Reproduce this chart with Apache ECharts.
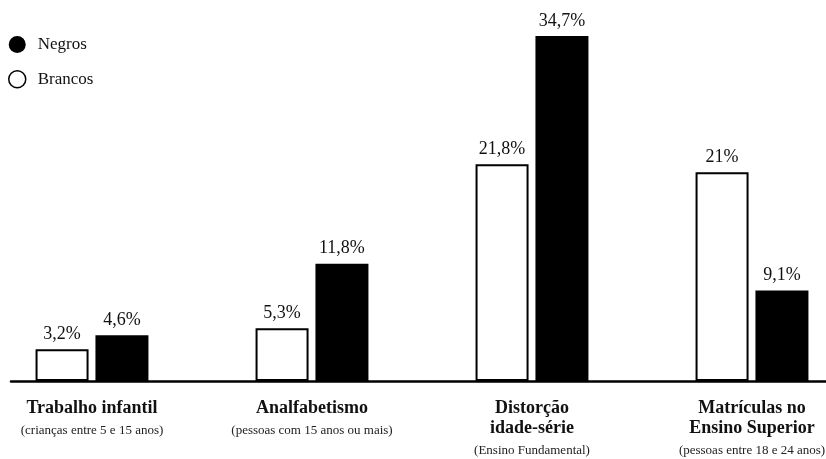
<!DOCTYPE html>
<html>
<head>
<meta charset="utf-8">
<script src="https://cdn.jsdelivr.net/npm/echarts@6/dist/echarts.min.js"></script>
<style>
  html, body { margin: 0; padding: 0; background: #fff; }
  #chart { width: 826px; height: 459px; }
</style>
</head>
<body>
<div id="chart"></div>
<script>
// Indicadores sociais por cor/raça (%)
const categories = ['Trabalho infantil', 'Analfabetismo', 'Distorção\nidade-série', 'Matrículas no\nEnsino Superior'];
const subtitles = ['(crianças entre 5 e 15 anos)', '(pessoas com 15 anos ou mais)', '(Ensino Fundamental)', '(pessoas entre 18 e 24 anos)'];
const brancos = [3.2, 5.3, 21.8, 21];
const negros = [4.6, 11.8, 34.7, 9.1];

const FONT = '"Liberation Serif", "DejaVu Serif", serif';

const pct = v => String(v).replace('.', ',') + '%';

const chart = echarts.init(document.getElementById('chart'), null, { renderer: 'canvas' });

chart.setOption({
  backgroundColor: '#ffffff',
  animation: false,
  textStyle: { fontFamily: FONT, color: '#111' },
  legend: {
    orient: 'vertical',
    left: 8,
    top: 36,
    padding: 0,
    itemWidth: 17,
    itemHeight: 17,
    itemGap: 17,
    icon: 'circle',
    textStyle: { fontFamily: FONT, fontSize: 17, color: '#111', padding: [0, 0, 0, 7] },
    data: [
      { name: 'Negros', itemStyle: { color: '#000', borderWidth: 0 } },
      { name: 'Brancos', itemStyle: { color: '#fff', borderColor: '#000', borderWidth: 1.5 } }
    ]
  },
  grid: [
    { left: -18, right: -36, top: 33, bottom: 78, outerBoundsMode: 'none' },
    { left: 11, right: 0, top: 33, bottom: 78, outerBoundsMode: 'none' }
  ],
  xAxis: [
    {
      type: 'category',
      gridIndex: 0,
      data: categories,
      axisLine: { show: false },
      axisTick: { show: false },
      splitLine: { show: false },
      axisLabel: {
        margin: 17,
        interval: 0,
        formatter: (val, idx) => {
          const title = val.split('\n').map(t => '{b|' + t + '}').join('\n');
          return title + '\n{s|' + subtitles[idx] + '}';
        },
        rich: {
          b: { fontFamily: FONT, fontSize: 18, fontWeight: 'bold', color: '#111', lineHeight: 20, align: 'center' },
          s: { fontFamily: FONT, fontSize: 13, color: '#222', lineHeight: 26, align: 'center' }
        }
      }
    },
    {
      type: 'category',
      gridIndex: 1,
      data: categories,
      axisLine: { show: true, lineStyle: { color: '#000', width: 2.5 } },
      axisTick: { show: false },
      axisLabel: { show: false },
      z: 10
    }
  ],
  yAxis: [
    { type: 'value', gridIndex: 0, min: 0, max: 35, show: false },
    { type: 'value', gridIndex: 1, min: 0, max: 35, show: false }
  ],
  series: [
    {
      name: 'Brancos',
      type: 'bar',
      xAxisIndex: 0,
      yAxisIndex: 0,
      data: brancos,
      barWidth: 53,
      barGap: '13%',
      itemStyle: { color: '#fff', borderColor: '#000', borderWidth: 2 },
      label: {
        show: true,
        position: 'top',
        distance: 6,
        fontFamily: FONT,
        fontSize: 18,
        color: '#111',
        formatter: p => pct(p.value)
      }
    },
    {
      name: 'Negros',
      type: 'bar',
      xAxisIndex: 0,
      yAxisIndex: 0,
      data: negros,
      barWidth: 53,
      itemStyle: { color: '#000' },
      label: {
        show: true,
        position: 'top',
        distance: 6,
        fontFamily: FONT,
        fontSize: 18,
        color: '#111',
        formatter: p => pct(p.value)
      }
    }
  ]
});
</script>
</body>
</html>
